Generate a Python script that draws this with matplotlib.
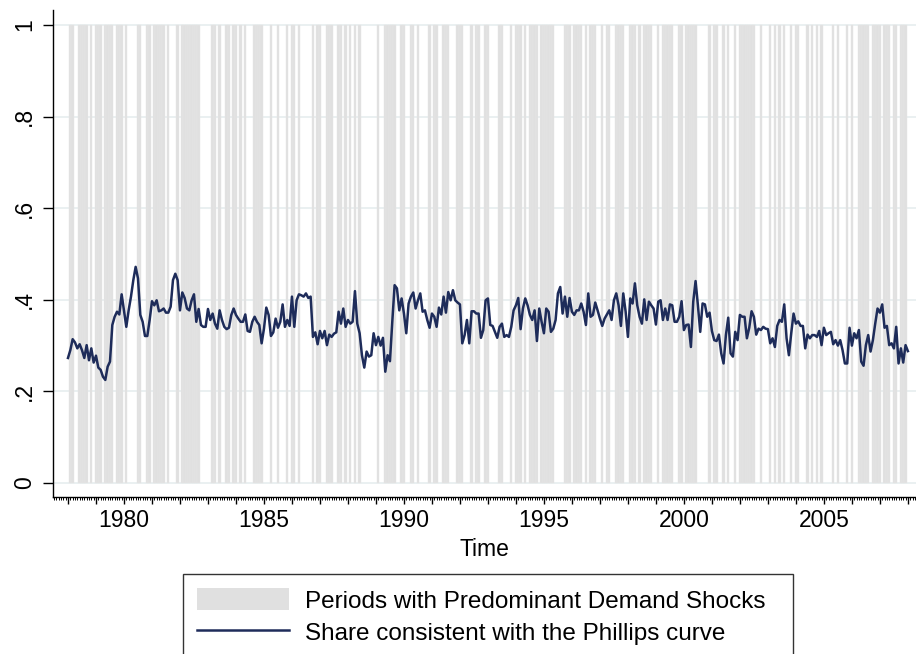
import numpy as np
import matplotlib
matplotlib.use("Agg")
from matplotlib import pyplot as plt
from matplotlib.patches import Patch
from matplotlib.lines import Line2D
from matplotlib.ticker import MultipleLocator, FuncFormatter

plt.rcParams["font.family"] = ["Liberation Sans", "DejaVu Sans"]

START_YEAR = 1978

# one string per year (1978..2007), one digit per month: 1 = demand shocks dominate
demand_shocks = [
    "011001111010", "111011110111", "010000110011", "011111010001",
    "011111111000", "001101001101", "101010001111", "000100100010",
    "110100000101", "100111001101", "010101000000", "010011111001",
    "100110100001", "011001110001", "110001011001", "100001100010",
    "111010111101", "111110000111", "011110101110", "010110011110",
    "011101011110", "010111110011", "011111000001", "011001010010",
    "111111100100", "010101010010", "110001010101", "000010100010",
    "100111110111", "101110110111",
]

# monthly share consistent with the Phillips curve, from 1978m1
phillips_share = [
    0.273, 0.290, 0.314, 0.307, 0.294, 0.303, 0.290, 0.273, 0.301, 0.268,
    0.294, 0.263, 0.278, 0.252, 0.247, 0.232, 0.225, 0.254, 0.265, 0.345,
    0.363, 0.374, 0.368, 0.412, 0.377, 0.341, 0.377, 0.407, 0.443, 0.472,
    0.447, 0.367, 0.352, 0.321, 0.321, 0.356, 0.397, 0.388, 0.399, 0.375,
    0.377, 0.381, 0.372, 0.372, 0.385, 0.443, 0.457, 0.443, 0.377, 0.416,
    0.404, 0.381, 0.377, 0.399, 0.412, 0.352, 0.380, 0.345, 0.341,
    0.341, 0.380, 0.356, 0.370, 0.348, 0.337, 0.377, 0.356, 0.341, 0.336,
    0.339, 0.367, 0.381, 0.367, 0.359, 0.352, 0.352, 0.368, 0.332, 0.330,
    0.352, 0.363, 0.352, 0.345, 0.305, 0.337, 0.383, 0.367, 0.321, 0.329,
    0.359, 0.339, 0.352, 0.390, 0.341, 0.356, 0.343, 0.407, 0.341, 0.399,
    0.412, 0.410, 0.407, 0.414, 0.404, 0.407, 0.319, 0.329, 0.303, 0.332,
    0.316, 0.332, 0.301, 0.324, 0.319, 0.326, 0.329, 0.374, 0.348, 0.381,
    0.341, 0.356, 0.348, 0.352, 0.419, 0.348, 0.327, 0.279, 0.252, 0.287,
    0.276, 0.279, 0.327, 0.301, 0.319, 0.300, 0.317, 0.243, 0.279, 0.266,
    0.352, 0.432, 0.425, 0.377, 0.403, 0.370, 0.327, 0.392, 0.407, 0.416,
    0.381, 0.399, 0.414, 0.374, 0.377, 0.356, 0.339, 0.370, 0.363, 0.341,
    0.383, 0.368, 0.407, 0.372, 0.417, 0.399, 0.421, 0.399, 0.394, 0.390,
    0.305, 0.323, 0.356, 0.305, 0.375, 0.375, 0.370, 0.370, 0.317, 0.334,
    0.399,
    0.403, 0.345, 0.343, 0.330, 0.317, 0.341, 0.348, 0.319, 0.323, 0.319,
    0.341, 0.377, 0.388, 0.404, 0.336, 0.381, 0.403, 0.388, 0.367, 0.356,
    0.377, 0.310, 0.381, 0.352, 0.327, 0.381, 0.374, 0.330, 0.337, 0.356,
    0.414, 0.428, 0.370, 0.407, 0.363, 0.404, 0.374, 0.367, 0.377, 0.377,
    0.392, 0.374, 0.345, 0.414, 0.363, 0.367, 0.394, 0.377, 0.359, 0.343,
    0.359, 0.368, 0.377, 0.356, 0.399, 0.414, 0.388, 0.343, 0.414, 0.375,
    0.319,
    0.403, 0.392, 0.436, 0.388, 0.363, 0.348, 0.401, 0.356, 0.396,
    0.388, 0.381, 0.346, 0.396, 0.399, 0.356, 0.381, 0.356, 0.390, 0.388,
    0.352, 0.352, 0.363, 0.397, 0.334, 0.345, 0.346, 0.297, 0.396, 0.441,
    0.388, 0.330, 0.392, 0.390, 0.363, 0.372, 0.332, 0.312, 0.310, 0.324,
    0.283, 0.261, 0.323, 0.361, 0.283, 0.276, 0.330, 0.312, 0.367, 0.363,
    0.363, 0.316, 0.339, 0.375, 0.363, 0.324, 0.337, 0.334, 0.341, 0.337,
    0.336, 0.305,
    0.316, 0.297, 0.343, 0.356, 0.352, 0.390, 0.316, 0.279,
    0.327, 0.370, 0.348, 0.353, 0.343, 0.343, 0.294, 0.324, 0.316, 0.323,
    0.323, 0.319, 0.332, 0.301, 0.339, 0.323, 0.327, 0.330, 0.303, 0.312,
    0.300, 0.312, 0.290, 0.261, 0.261, 0.339, 0.300, 0.327, 0.316, 0.334,
    0.265, 0.256, 0.301, 0.323, 0.287, 0.312, 0.348, 0.381, 0.372, 0.390,
    0.339, 0.343, 0.301, 0.305, 0.294, 0.341, 0.261, 0.294, 0.263, 0.301,
    0.288,
]

y_ticks = [0, 0.2, 0.4, 0.6, 0.8, 1]
y_labels = ["0", ".2", ".4", ".6", ".8", "1"]

t = START_YEAR + np.arange(len(phillips_share)) / 12.0
shock = np.array([int(c) for year in demand_shocks for c in year])
t_shock = START_YEAR + np.arange(len(shock)) / 12.0

fig = plt.figure(figsize=(9.16, 6.54), dpi=100)
ax = fig.add_axes([52.7 / 916, 1 - 496.7 / 654, 1 - 52.7 / 916, (496.7 - 10) / 654])

ax.set_xlim(1977.454, 2008.29)
ax.set_ylim(-0.030, 1.033)

for y in y_ticks:
    ax.axhline(y, color="#e8eff0", lw=1.3, zorder=0)

ax.bar(t_shock[shock == 1], 1, width=1 / 12, bottom=0, align="center",
       color="#e0e0e0", edgecolor="#e6e6e6", linewidth=0.3, zorder=1)
ax.plot(t, phillips_share, color="#1e2c5a", lw=1.8, zorder=3)

for side in ["top", "right"]:
    ax.spines[side].set_visible(False)
for side in ["left", "bottom"]:
    ax.spines[side].set_color("black")
    ax.spines[side].set_linewidth(1.0)

ax.set_yticks(y_ticks)
ax.set_yticklabels(y_labels, rotation=90, va="center", fontsize=16.5)
ax.tick_params(axis="y", length=7, width=1, pad=5)

ax.xaxis.set_major_locator(MultipleLocator(1))
ax.xaxis.set_minor_locator(MultipleLocator(1 / 12))
ax.xaxis.set_major_formatter(FuncFormatter(
    lambda v, p: "%d" % round(v) if round(v) % 5 == 0 else ""))
ax.tick_params(axis="x", which="major", length=5, width=1, pad=4, labelsize=16.5)
ax.tick_params(axis="x", which="minor", length=2.5, width=0.7)
ax.set_xlabel("Time", fontsize=16.5, labelpad=4)

handles = [
    Patch(facecolor="#e0e0e0", edgecolor="none"),
    Line2D([], [], color="#1e2c5a", lw=1.8),
]
labels = ["Periods with Predominant Demand Shocks",
          "Share consistent with the Phillips curve"]
leg = fig.legend(handles, labels, loc="upper left", mode="expand",
                 bbox_to_anchor=(183 / 916, 1 - 575 / 654, 610 / 916, 0.001),
                 fontsize=17.5, frameon=True, fancybox=False,
                 handlelength=3.8, handleheight=1.0, handletextpad=0.62,
                 labelspacing=0.33, borderpad=0.58, borderaxespad=0)
leg.get_frame().set_edgecolor("black")
leg.get_frame().set_linewidth(1.0)

fig.savefig("out.png", dpi=100)
